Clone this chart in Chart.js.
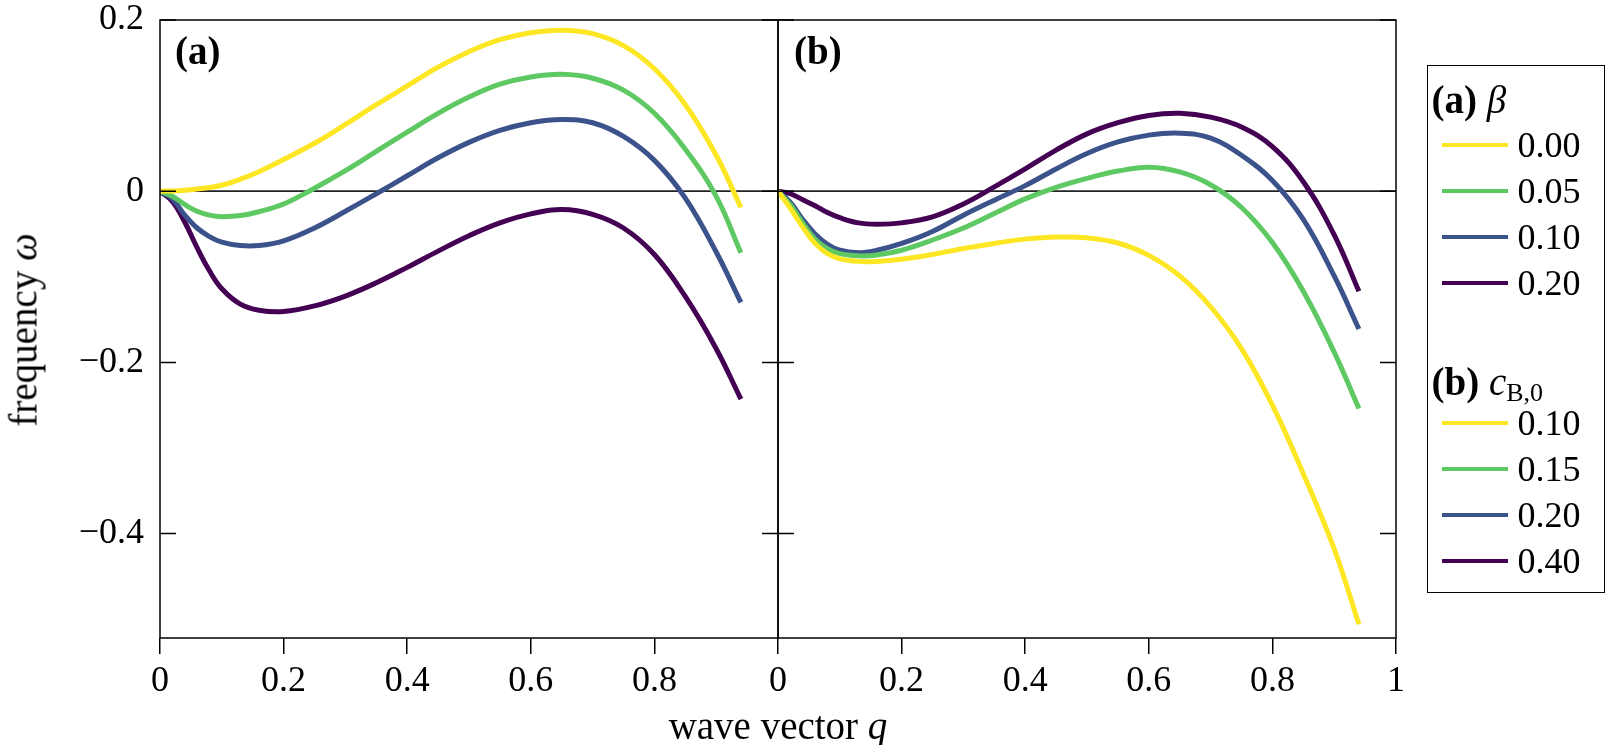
<!DOCTYPE html>
<html>
<head>
<meta charset="utf-8">
<script src="https://cdn.jsdelivr.net/npm/chart.js@4.4.1/dist/chart.umd.min.js"></script>
<style>
  body { margin: 0; background: #fff; width: 1606px; height: 745px; position: relative; overflow: hidden;
         font-family: "Liberation Serif", serif; color: #000; }
  canvas { position: absolute; top: 0; }
  .txt { position: absolute; white-space: nowrap; line-height: 1; }
  .bold { font-weight: bold; }
  #legend { position: absolute; left: 1427px; top: 65px; width: 178px; height: 528px;
            border: 1.5px solid #000; box-sizing: border-box; }
</style>
</head>
<body>
<canvas id="panelA" width="800" height="745" style="left:0"></canvas>
<canvas id="panelB" width="760" height="745" style="left:700px"></canvas>

<div class="txt bold" style="left:175px; top:31px; font-size:39px">(a)</div>
<div class="txt bold" style="left:794px; top:31px; font-size:39px">(b)</div>
<div class="txt" style="left:778px; top:706px; font-size:39px; transform:translateX(-50%)">wave vector <i>q</i></div>
<div class="txt" style="left:23px; top:330px; font-size:39px; transform:translate(-50%,-50%) rotate(-90deg)">frequency <i>ω</i></div>
<div id="legend"></div>

<script>
// wave vector q (shared by all curves)
const qValues = [0, 0.02, 0.04, 0.06, 0.08, 0.10, 0.13, 0.16, 0.20, 0.25, 0.30, 0.35,
                 0.40, 0.45, 0.50, 0.55, 0.60, 0.65, 0.70, 0.75, 0.80, 0.85, 0.90, 0.94];

// panel (a): frequency for beta = 0.00, 0.05, 0.10, 0.20
const omegaBeta000 = [0, 0.0003, 0.0011, 0.0025, 0.0044, 0.0069, 0.0140, 0.0228, 0.037, 0.056, 0.078, 0.101,
                      0.123, 0.145, 0.163, 0.177, 0.185, 0.188, 0.184, 0.170, 0.143, 0.101, 0.042, -0.019];
const omegaBeta005 = [0, -0.006, -0.0155, -0.0235, -0.028, -0.0298, -0.0285, -0.024, -0.015, 0.0035, 0.024, 0.0465,
                      0.069, 0.091, 0.110, 0.125, 0.1335, 0.1365, 0.132, 0.118, 0.091, 0.049, -0.006, -0.072];
const omegaBeta010 = [0, -0.009, -0.028, -0.043, -0.053, -0.0595, -0.0635, -0.0635, -0.058, -0.043, -0.0235, -0.003,
                      0.018, 0.039, 0.057, 0.071, 0.080, 0.0837, 0.080, 0.064, 0.036, -0.008, -0.071, -0.130];
const omegaBeta020 = [0, -0.012, -0.036, -0.066, -0.093, -0.114, -0.132, -0.139, -0.1405, -0.134, -0.1225, -0.107,
                      -0.089, -0.070, -0.052, -0.037, -0.0265, -0.0215, -0.027, -0.043, -0.074, -0.123, -0.184, -0.243];

// panel (b): frequency for c_B,0 = 0.10, 0.15, 0.20, 0.40
const omegaC010 = [0, -0.020, -0.042, -0.061, -0.073, -0.079, -0.082, -0.082, -0.0795, -0.074, -0.067, -0.061,
                   -0.056, -0.0535, -0.0545, -0.0605, -0.075, -0.099, -0.135, -0.184, -0.250, -0.330, -0.418, -0.506];
const omegaC015 = [0, -0.016, -0.037, -0.056, -0.067, -0.073, -0.0755, -0.0745, -0.069, -0.057, -0.043, -0.026,
                   -0.009, 0.0045, 0.015, 0.0235, 0.028, 0.0225, 0.0075, -0.019, -0.060, -0.117, -0.188, -0.254];
const omegaC020 = [0, -0.013, -0.033, -0.050, -0.062, -0.069, -0.072, -0.069, -0.061, -0.047, -0.028, -0.0105,
                   0.0065, 0.026, 0.044, 0.0575, 0.0655, 0.0678, 0.062, 0.042, 0.0125, -0.033, -0.099, -0.161];
const omegaC040 = [0, -0.003, -0.010, -0.017, -0.025, -0.031, -0.037, -0.0385, -0.037, -0.030, -0.015, 0.005,
                   0.026, 0.048, 0.067, 0.080, 0.0885, 0.091, 0.0865, 0.075, 0.052, 0.011, -0.051, -0.117];

const betaLabels = ["0.00", "0.05", "0.10", "0.20"];
const cLabels = ["0.10", "0.15", "0.20", "0.40"];
const colors = ["#fde725", "#5ec962", "#3b528b", "#440154"];

const yTicks = [-0.4, -0.2, 0, 0.2];
const xTicksA = [0, 0.2, 0.4, 0.6, 0.8];
const xTicksB = [0, 0.2, 0.4, 0.6, 0.8, 1];
const yMin = -0.522, yMax = 0.2;

const fontSpec = { family: "Liberation Serif", size: 36, lineHeight: 1 };

function fmt(v) {
  if (Math.abs(v) < 1e-9) return "0";
  if (Math.abs(v - 1) < 1e-9) return "1";
  return v.toFixed(1).replace("-", "\u2212");
}

// frame, zero line and inward y ticks
const framePlugin = {
  id: "frame",
  beforeDatasetsDraw(chart) {
    const { ctx, chartArea: a, scales: { y } } = chart;
    const y0 = y.getPixelForValue(0);
    ctx.save();
    ctx.strokeStyle = "#222";
    ctx.lineWidth = 1.7;
    ctx.beginPath();
    ctx.moveTo(a.left, y0);
    ctx.lineTo(a.right, y0);
    ctx.stroke();
    ctx.restore();
  },
  afterDatasetsDraw(chart) {
    const { ctx, chartArea: a, scales: { y } } = chart;
    ctx.save();
    ctx.strokeStyle = "#000";
    ctx.lineWidth = 1.5;
    ctx.strokeRect(a.left, a.top, a.right - a.left, a.bottom - a.top);
    ctx.beginPath();
    yTicks.forEach(v => {
      const p = y.getPixelForValue(v);
      ctx.moveTo(a.left, p); ctx.lineTo(a.left + 16, p);
      ctx.moveTo(a.right - 16, p); ctx.lineTo(a.right, p);
    });
    ctx.stroke();
    ctx.restore();
  }
};

function makeDatasets(series) {
  return series.map((vals, i) => ({
    data: qValues.map((q, j) => ({ x: q, y: vals[j] })),
    borderColor: colors[i],
    borderWidth: 5,
    pointRadius: 0,
    fill: false,
    tension: 0.4
  }));
}

// fixed axis sizes, label overhang ignored so the plot box is exact
function noPad(s) {
  s.paddingTop = 0; s.paddingBottom = 0; s.paddingLeft = 0; s.paddingRight = 0;
}

function makeChart(id, series, xTicks, showYLabels, yWidth, padRight) {
  return new Chart(document.getElementById(id), {
    type: "line",
    data: { datasets: makeDatasets(series) },
    options: {
      responsive: false,
      animation: false,
      layout: { padding: { top: 20, right: padRight, bottom: 0, left: 0 } },
      plugins: { legend: { display: false }, tooltip: { enabled: false } },
      scales: {
        x: {
          type: "linear",
          min: 0, max: 1,
          afterBuildTicks: s => { s.ticks = xTicks.map(v => ({ value: v })); },
          afterFit: s => { s.height = 107; noPad(s); },
          grid: { drawOnChartArea: false, drawTicks: true, tickLength: 16, color: "#000", lineWidth: 1.5 },
          border: { display: false },
          ticks: { font: fontSpec, color: "#000", padding: 10, maxRotation: 0, callback: v => fmt(v) }
        },
        y: {
          min: yMin, max: yMax,
          afterBuildTicks: s => { s.ticks = yTicks.map(v => ({ value: v })); },
          afterFit: s => { s.width = yWidth; noPad(s); },
          grid: { display: false, drawTicks: false },
          border: { display: false },
          ticks: { display: showYLabels, font: fontSpec, color: "#000", padding: 16, callback: v => fmt(v) }
        }
      }
    },
    plugins: [framePlugin]
  });
}

makeChart("panelA", [omegaBeta000, omegaBeta005, omegaBeta010, omegaBeta020], xTicksA, true, 160, 22);
makeChart("panelB", [omegaC010, omegaC015, omegaC020, omegaC040], xTicksB, false, 78, 64);

// legend built from the label and colour arrays
const legend = document.getElementById("legend");
const L = { left: 1427 + 1.5, top: 65 + 1.5 };
function addHeader(html, cy) {
  const d = document.createElement("div");
  d.className = "txt";
  d.style.cssText = `left:${1432 - L.left}px; top:${cy - L.top - 20}px; font-size:39px;`;
  d.innerHTML = html;
  legend.appendChild(d);
}
function addRow(label, color, cy) {
  const line = document.createElement("div");
  line.style.cssText = `position:absolute; left:${1442 - L.left}px; top:${cy - 2 - L.top}px; width:66px; height:4px; background:${color};`;
  legend.appendChild(line);
  const t = document.createElement("div");
  t.className = "txt";
  t.style.cssText = `left:${1518 - L.left}px; top:${cy - 18 - L.top}px; font-size:36px;`;
  t.textContent = label;
  legend.appendChild(t);
}
addHeader('<b>(a)</b> <i>β</i>', 100);
betaLabels.forEach((lab, i) => addRow(lab, colors[i], 145.5 + 46 * i));
addHeader('<b>(b)</b> <i>c</i><sub style="font-size:26px; vertical-align:-6px">B,0</sub>', 382);
cLabels.forEach((lab, i) => addRow(lab, colors[i], 423 + 46.3 * i));
</script>
</body>
</html>
